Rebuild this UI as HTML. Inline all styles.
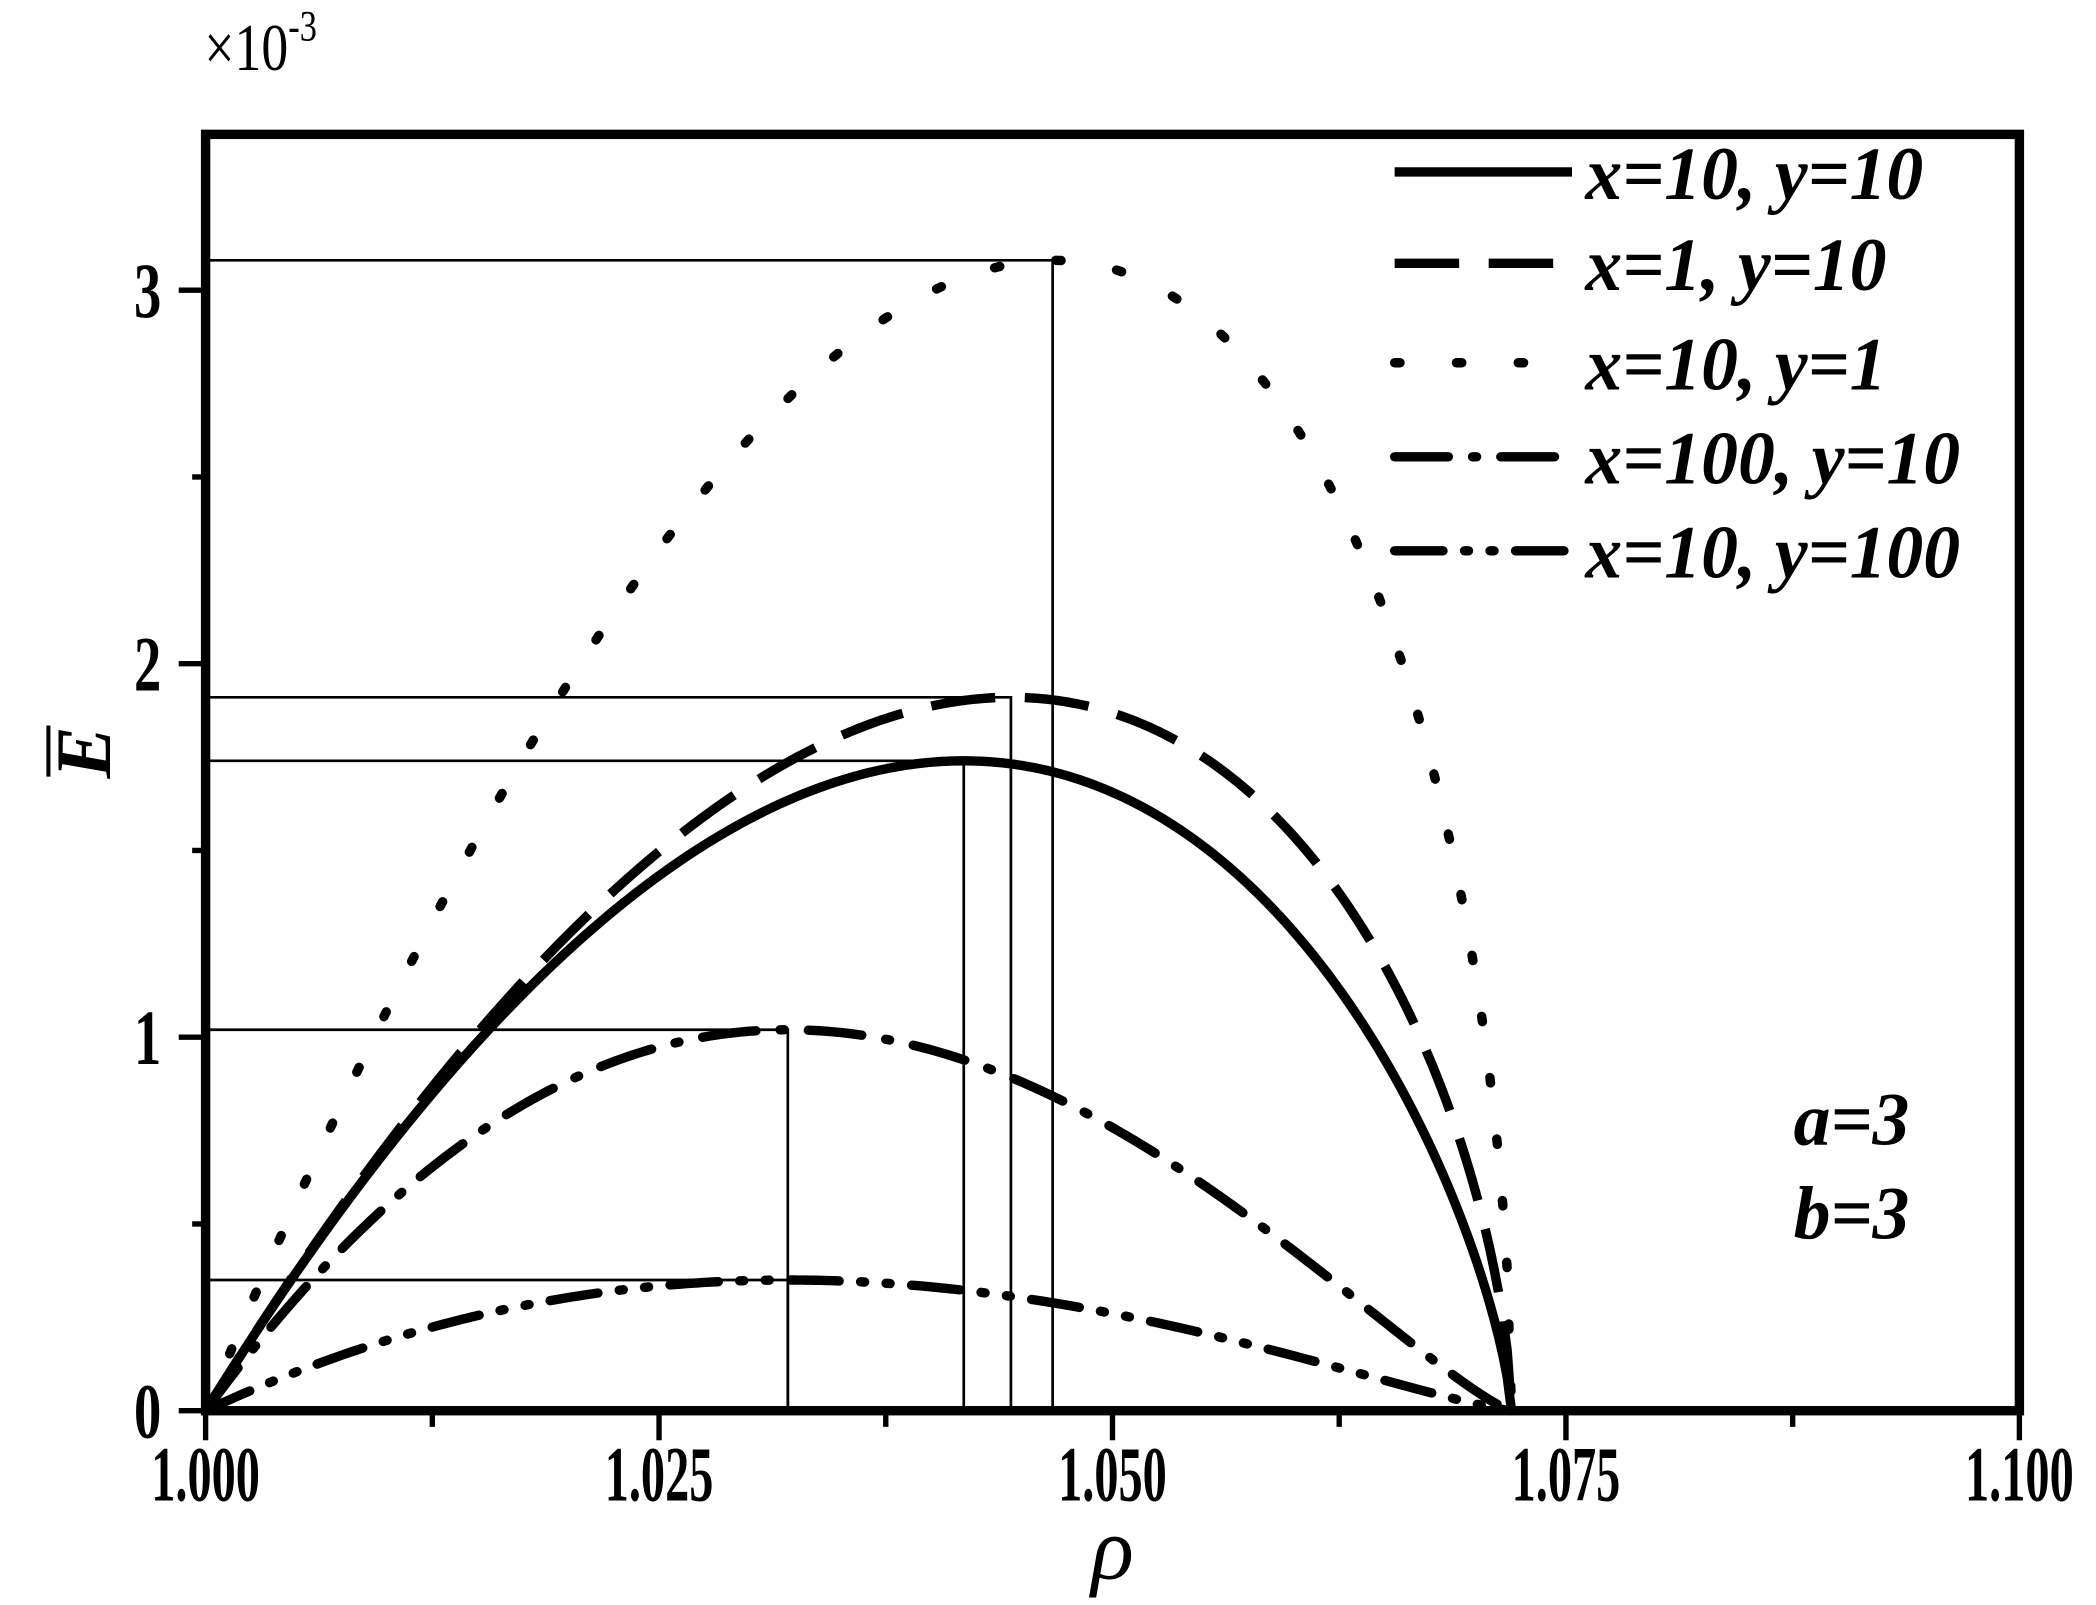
<!DOCTYPE html>
<html><head><meta charset="utf-8"><style>
html,body{margin:0;padding:0;background:#fff;}
svg{display:block;}
text{font-family:"Liberation Serif",serif;font-weight:bold;fill:#000;}
</style></head><body>
<svg id="s" width="2096" height="1605" viewBox="0 0 1560 1194.6" xmlns="http://www.w3.org/2000/svg">
<rect width="1560" height="1195" fill="#fff"/>
<g id="ref" stroke="#000" stroke-width="2" fill="none"></g>
<g id="curves" fill="none" stroke="#000" stroke-width="7"></g>
<rect x="153" y="100" width="1350" height="950" fill="none" stroke="#000" stroke-width="7"/>
<g id="ticks" stroke="#000" stroke-width="4"></g>
<g font-size="58" text-anchor="middle">
<text transform="translate(153 1117) scale(0.62 1)">1.000</text>
<text transform="translate(490.5 1117) scale(0.62 1)">1.025</text>
<text transform="translate(828 1117) scale(0.62 1)">1.050</text>
<text transform="translate(1165.5 1117) scale(0.62 1)">1.075</text>
<text transform="translate(1503 1117) scale(0.62 1)">1.100</text>
</g>
<g font-size="58" text-anchor="end">
<text transform="translate(120 1070) scale(0.7 1)">0</text>
<text transform="translate(120 792) scale(0.7 1)">1</text>
<text transform="translate(120 514) scale(0.7 1)">2</text>
<text transform="translate(120 236) scale(0.7 1)">3</text>
</g>
<text transform="translate(152 52) scale(0.8 1)" font-size="50" style="font-weight:normal">×10<tspan dy="-22" font-size="32">-3</tspan></text>
<text x="828" y="1175" font-size="66" font-style="italic" text-anchor="middle" style="font-weight:normal">ρ</text>
<g transform="translate(82 560) rotate(-90)">
<text x="0" y="0" font-size="58" font-style="italic" text-anchor="middle">E</text>
<line x1="-18" y1="-46" x2="20" y2="-46" stroke="#000" stroke-width="3"/>
</g>
<g font-size="56" font-style="italic">
<text transform="translate(1180 148) scale(0.98 1)">x=10, y=10</text>
<text transform="translate(1180 216) scale(0.98 1)">x=1, y=10</text>
<text transform="translate(1180 290) scale(0.98 1)">x=10, y=1</text>
<text transform="translate(1180 360) scale(0.98 1)">x=100, y=10</text>
<text transform="translate(1180 430) scale(0.98 1)">x=10, y=100</text>
<text transform="translate(1335 852) scale(0.98 1)">a=3</text>
<text transform="translate(1335 922) scale(0.98 1)">b=3</text>
</g>
<g id="leg" fill="none" stroke="#000" stroke-width="7"></g>
</svg>
<script>
var NS="http://www.w3.org/2000/svg";
function el(g,tag,a){var e=document.createElementNS(NS,tag);for(var k in a)e.setAttribute(k,a[k]);document.getElementById(g).appendChild(e);return e;}
function X(r){return 153+(r-1)*13500;}
function Y(e){return 1050-e*278;}
var R=0.072;
var cs=[
 {pk:1.0418,E:1.74,da:"none",cap:"butt"},
 {pk:1.0444,E:1.91,da:"48 22",cap:"butt"},
 {pk:1.0467,E:3.08,da:"4 42",cap:"round"},
 {pk:1.0321,E:1.02,da:"40 18 3 18",cap:"round"},
 {pk:1.0321,E:0.35,da:"36 16 3 16 3 16",cap:"round"}
];
cs.forEach(function(c){
 var t0=(c.pk-1)/R,p=1,q=p*(1-t0)/t0;
 var fm=Math.pow(t0,p)*Math.pow(1-t0,q);
 var d="";
 for(var i=0;i<=300;i++){var t=i/300;var f=Math.pow(t,p)*Math.pow(1-t,q)/fm*c.E;
  d+=(i?"L":"M")+X(1+t*R).toFixed(2)+" "+Y(f).toFixed(2);}
 el("curves","path",{d:d,"stroke-dasharray":c.da,"stroke-linecap":c.cap});
 el("ref","path",{d:"M153 "+Y(c.E)+"H"+X(c.pk)+"V1050"});
});
var ly=[128,196,270,340,410];
cs.forEach(function(c,i){el("leg","path",{d:"M1038 "+ly[i]+"H1170","stroke-dasharray":c.da,"stroke-linecap":c.cap});});
for(var k=0;k<=8;k++){var x=153+k*168.75;el("ticks","line",{x1:x,y1:1050,x2:x,y2:k%2?1062:1072});}
for(var k=0;k<=6;k++){var y=1050-k*139;el("ticks","line",{x1:153,y1:y,x2:k%2?143:133,y2:y});}
</script>
</body></html>
